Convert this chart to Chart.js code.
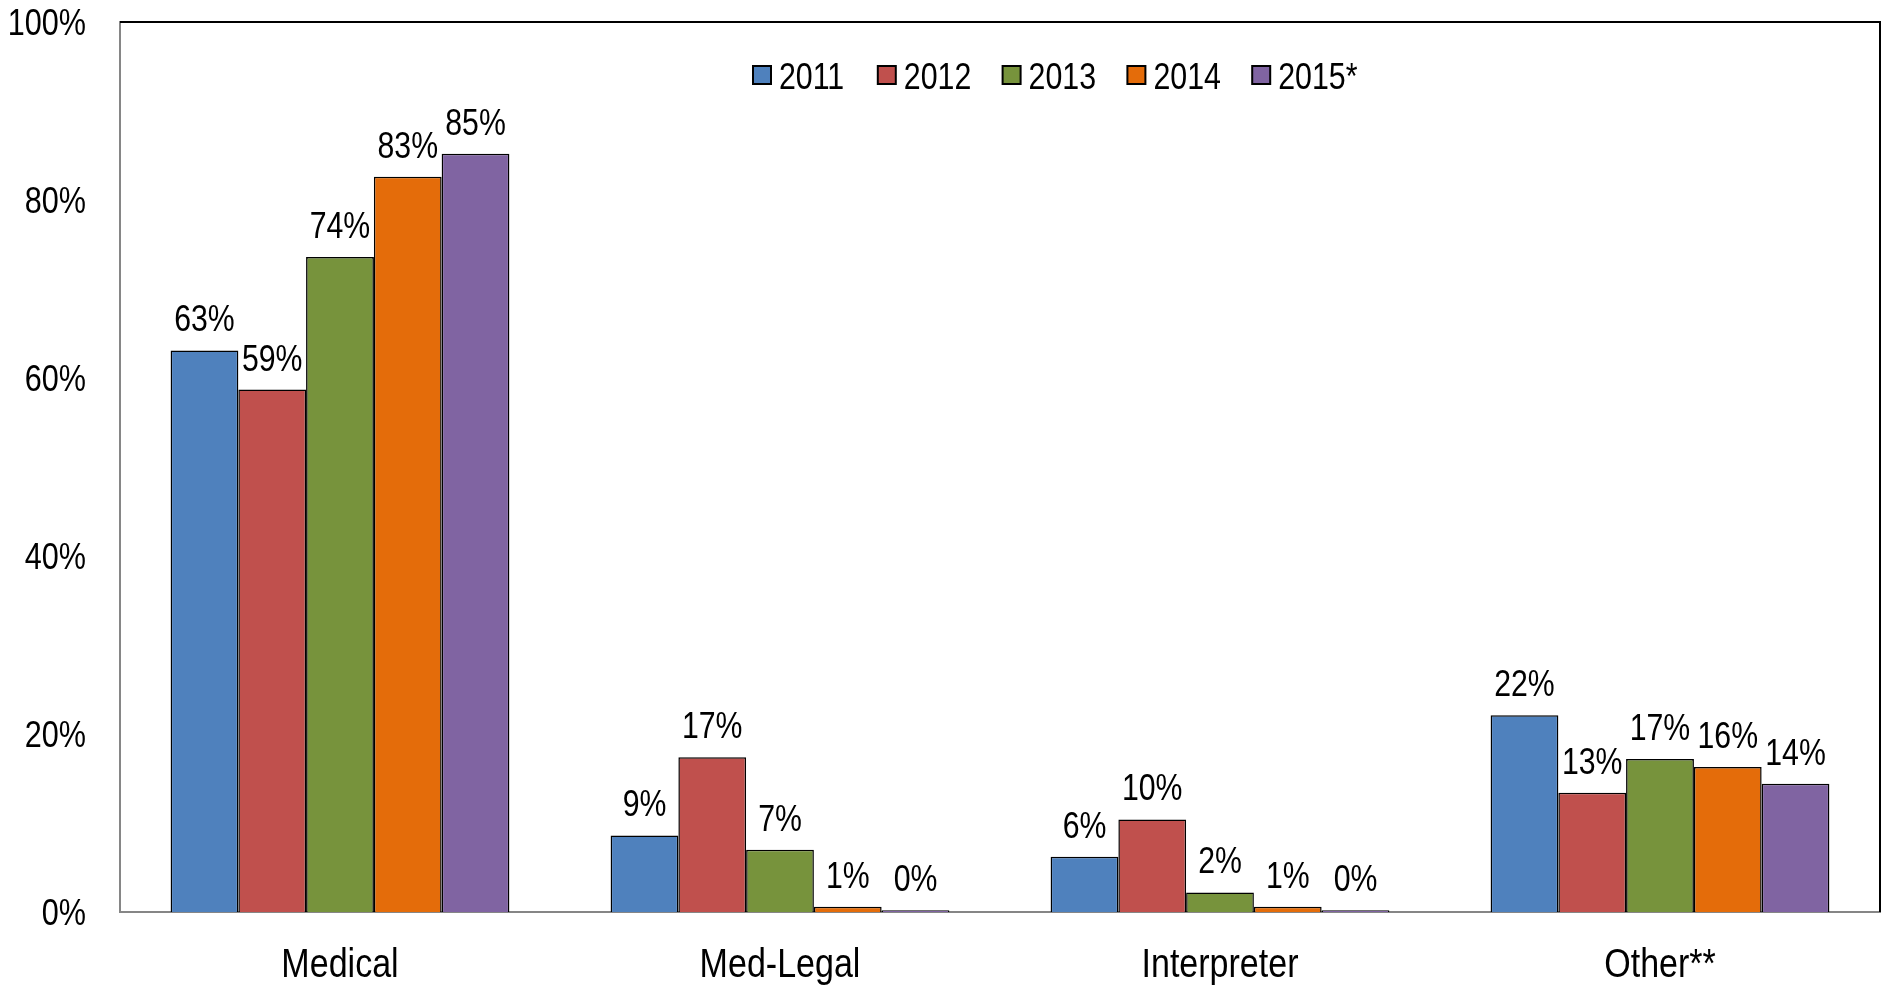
<!DOCTYPE html>
<html>
<head>
<meta charset="utf-8">
<script src="https://cdn.jsdelivr.net/npm/chart.js@4/dist/chart.umd.min.js"></script>
<style>
html,body{margin:0;padding:0;background:#fff;}
#wrap{width:1886px;height:988px;position:relative;}
</style>
</head>
<body>
<div id="wrap"><canvas id="c" width="1886" height="988"></canvas></div>
<script>
const categories = ['Medical', 'Med-Legal', 'Interpreter', 'Other**'];
const seriesNames = ['2011', '2012', '2013', '2014', '2015*'];
const values2011 = [63.1, 8.6, 6.2, 22.1];
const values2012 = [58.7, 17.4, 10.4, 13.4];
const values2013 = [73.6, 7.0, 2.2, 17.2];
const values2014 = [82.6, 0.6, 0.6, 16.3];
const values2015 = [85.2, 0.2, 0.2, 14.4];
const yTicks = [0, 20, 40, 60, 80, 100];
const colors = ['#4F81BD', '#C0504D', '#77933C', '#E46C0A', '#8064A2'];

const FONT = "'Liberation Sans', Arial, sans-serif";
const allValues = [values2011, values2012, values2013, values2014, values2015];

const datasets = allValues.map((v, i) => ({
  label: seriesNames[i],
  data: v,
  backgroundColor: colors[i],
  borderColor: '#000',
  borderWidth: 1.5,
  categoryPercentage: 0.77,
  barPercentage: 1.0
}));

function narrowText(ctx, text, x, y, size, align, sx) {
  ctx.save();
  ctx.font = size + 'px ' + FONT;
  ctx.textAlign = align;
  ctx.textBaseline = 'alphabetic';
  ctx.fillStyle = '#000';
  ctx.translate(x, y);
  ctx.scale(sx, 1);
  ctx.fillText(text, 0, 0);
  ctx.restore();
}

const extras = {
  id: 'extras',
  afterDatasetsDraw(chart) {
    const ctx = chart.ctx;
    chart.data.datasets.forEach((ds, di) => {
      const meta = chart.getDatasetMeta(di);
      meta.data.forEach((bar, i) => {
        narrowText(ctx, Math.round(ds.data[i]) + '%', bar.x, bar.y - 19, 36, 'center', 0.84);
      });
    });
  },
  afterDraw(chart) {
    const ctx = chart.ctx;
    const a = chart.chartArea;
    ctx.save();
    ctx.strokeStyle = '#000';
    ctx.lineWidth = 2;
    ctx.beginPath();
    ctx.moveTo(a.left, a.top);
    ctx.lineTo(a.right, a.top);
    ctx.lineTo(a.right, a.bottom);
    ctx.stroke();
    ctx.restore();

    const ys = chart.scales.y;
    ys.ticks.forEach((t) => {
      narrowText(ctx, t.value + '%', a.left - 34, ys.getPixelForValue(t.value) + 13, 36, 'right', 0.85);
    });
    const xs = chart.scales.x;
    chart.data.labels.forEach((lab, i) => {
      narrowText(ctx, lab, xs.getPixelForTick(i), a.bottom + 65, 41, 'center', 0.83);
    });

    const startX = 753, step = 124.8, boxY = 66, box = 18;
    chart.data.datasets.forEach((ds, i) => {
      const x = startX + i * step;
      ctx.save();
      ctx.fillStyle = ds.backgroundColor;
      ctx.fillRect(x, boxY, box, box);
      ctx.strokeStyle = '#000';
      ctx.lineWidth = 2;
      ctx.strokeRect(x, boxY, box, box);
      ctx.restore();
      narrowText(ctx, ds.label, x + box + 8, 89, 37, 'left', 0.82);
    });
  }
};

new Chart(document.getElementById('c'), {
  type: 'bar',
  data: { labels: categories, datasets },
  plugins: [extras],
  options: {
    responsive: false,
    animation: false,
    layout: { padding: { top: 22, right: 6, left: 0, bottom: 0 } },
    plugins: { legend: { display: false }, tooltip: { enabled: false } },
    scales: {
      x: {
        grid: { display: false, drawTicks: false },
        border: { display: true, color: '#868686', width: 2 },
        ticks: { color: 'rgba(0,0,0,0)', font: { family: FONT, size: 40 }, padding: 26 },
        afterFit(s) { s.height = 76; s.paddingLeft = 0; s.paddingRight = 0; }
      },
      y: {
        min: 0, max: 100,
        afterBuildTicks(s) { s.ticks = yTicks.map(v => ({ value: v })); },
        grid: { display: false, drawTicks: false },
        border: { display: true, color: '#868686', width: 2 },
        ticks: { color: 'rgba(0,0,0,0)', font: { family: FONT, size: 35 }, padding: 34,
          callback: v => v + '%' },
        afterFit(s) { s.width = 120; s.paddingTop = 0; s.paddingBottom = 0; }
      }
    }
  }
});
</script>
</body>
</html>
